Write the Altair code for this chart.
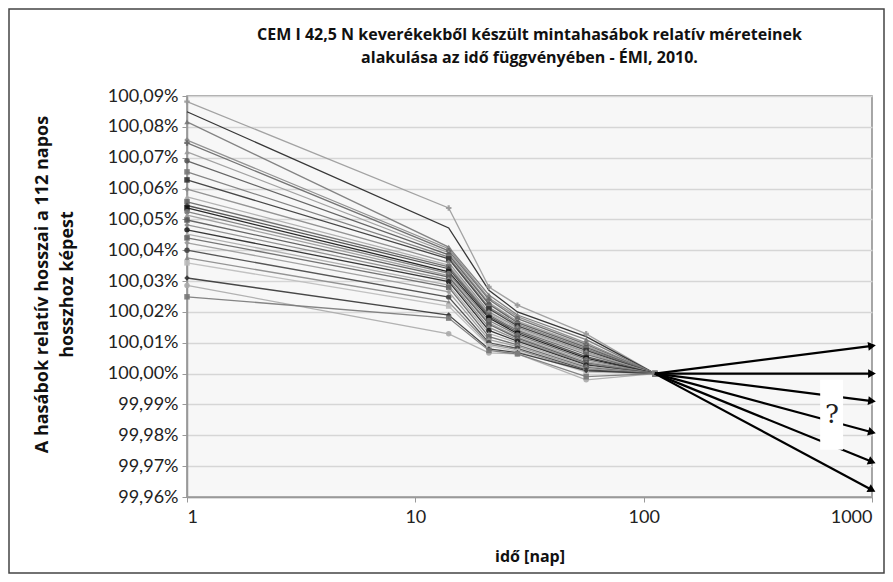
import math
import altair as alt
import pandas as pd

# ---------------- data ----------------
days = [1, 14, 21, 28, 56, 112]

d1 = [100.0882, 100.0849, 100.0816, 100.0757, 100.0748, 100.0719, 100.0690,
      100.0654, 100.0628, 100.0598, 100.0573, 100.0557, 100.0545, 100.0537,
      100.0525, 100.0514, 100.0498, 100.0482, 100.0466, 100.0452, 100.0440,
      100.0424, 100.0400, 100.0375, 100.0359, 100.0310, 100.0286, 100.0249]
d14 = [100.0537, 100.0472, 100.0410, 100.0405, 100.0398, 100.0392, 100.0385,
       100.0378, 100.0372, 100.0360, 100.0352, 100.0346, 100.0340, 100.0330,
       100.0325, 100.0318, 100.0313, 100.0305, 100.0298, 100.0287, 100.0280,
       100.0265, 100.0248, 100.0232, 100.0219, 100.0190, 100.0129, 100.0180]
d21 = [100.0281, 100.0270, 100.0255, 100.0245, 100.0240, 100.0230, 100.0225,
       100.0215, 100.0210, 100.0200, 100.0195, 100.0190, 100.0185, 100.0180,
       100.0172, 100.0165, 100.0160, 100.0150, 100.0140, 100.0130, 100.0120,
       100.0110, 100.0100, 100.0095, 100.0090, 100.0080, 100.0067, 100.0075]
d28 = [100.0222, 100.0200, 100.0190, 100.0185, 100.0178, 100.0170, 100.0165,
       100.0160, 100.0155, 100.0150, 100.0145, 100.0140, 100.0135, 100.0130,
       100.0125, 100.0119, 100.0115, 100.0110, 100.0105, 100.0100, 100.0093,
       100.0088, 100.0082, 100.0078, 100.0072, 100.0068, 100.0064, 100.0064]
d56 = [100.0129, 100.0120, 100.0110, 100.0100, 100.0095, 100.0090, 100.0085,
       100.0080, 100.0075, 100.0070, 100.0067, 100.0062, 100.0055, 100.0050,
       100.0045, 100.0040, 100.0035, 100.0032, 100.0028, 100.0024, 100.0020,
       100.0016, 100.0012, 100.0008, 100.0005, 100.0010, 99.9980, 99.9990]
d112 = [100.0] * len(d1)

series_colors = ["#999999", "#222222", "#777777", "#888888", "#666666", "#999999",
                 "#555555", "#777777", "#333333", "#888888", "#aaaaaa", "#666666",
                 "#444444", "#111111", "#777777", "#999999", "#555555", "#888888",
                 "#222222", "#aaaaaa", "#666666", "#999999", "#444444", "#888888",
                 "#bbbbbb", "#333333", "#aaaaaa", "#777777"]
series_shapes = ["cross", "stroke", "triangle-up", "diamond", "cross", "triangle-up",
                 "circle", "square", "square", "diamond", "triangle-up", "square",
                 "diamond", "square", "circle", "triangle-up", "square", "diamond",
                 "circle", "triangle-up", "square", "diamond", "circle", "triangle-up",
                 "square", "diamond", "circle", "square"]

arrow_start_day = 112
arrow_start_val = 100.0
arrow_end_day = 1000
arrow_end_vals = [100.0090, 100.0000, 99.9911, 99.9810, 99.9714, 99.9623]

qbox_x = [593, 747]
qbox_y = [99.9753, 99.9980]
qmark = {"day": 668, "value": 99.9865, "text": "?"}

title_lines = ["CEM I 42,5 N keverékekből készült mintahasábok relatív méreteinek",
               "alakulása az idő függvényében - ÉMI, 2010."]
y_title = ["A hasábok relatív hosszai a 112 napos", "hosszhoz képest"]
x_title = "idő [nap]"
x_ticks = [1, 10, 100, 1000]
y_ticks = [round(99.96 + 0.01 * k, 2) for k in range(14)]

# ---------------- layout ----------------
W, H = 685, 401
PAD = {"left": 179, "top": 88, "right": 13, "bottom": 77}
y_dom = [99.96, 100.09]
x_dom = [1, 1000]

names = [f"s{i+1:02d}" for i in range(len(d1))]
rows = []
for i, nm in enumerate(names):
    for d, v in zip(days, [d1[i], d14[i], d21[i], d28[i], d56[i], d112[i]]):
        rows.append({"series": nm, "day": d, "value": v})
df = pd.DataFrame(rows)

# arrow-head angles in screen space
px_per_decade = W / math.log10(x_dom[1] / x_dom[0])
px_per_unit = H / (y_dom[1] - y_dom[0])
arr_rows = []
for v in arrow_end_vals:
    dx = px_per_decade * math.log10(arrow_end_day / arrow_start_day)
    dy = (arrow_start_val - v) * px_per_unit
    ang = math.degrees(math.atan2(dy, dx)) % 360
    arr_rows.append({"x0": arrow_start_day, "y0": arrow_start_val,
                     "x1": arrow_end_day, "y1": v, "ang": ang})
adf = pd.DataFrame(arr_rows)

xscale = alt.Scale(type="log", domain=x_dom, nice=False)
yscale = alt.Scale(domain=y_dom, nice=False, zero=False)

xaxis = alt.Axis(values=x_ticks, format="d", grid=False, title=x_title,
                 labelFont="Lato", labelFontSize=18, labelColor="#222",
                 labelPadding=6, titleFont="Open Sans", titleFontSize=16,
                 titleFontWeight="bold", titleColor="#111", titlePadding=22,
                 tickSize=5, tickColor="#999", domainColor="#999", domainWidth=1.5,
                 labelOverlap=False)
yaxis = alt.Axis(values=y_ticks, grid=True, gridColor="#d6d6d6", gridWidth=1.5,
                 labelOverlap=False,
                 labelExpr="replace(format(datum.value, '.2f'), '.', ',') + '%'",
                 labelFont="Lato", labelFontSize=18, labelColor="#222",
                 labelPadding=4, tickSize=5, tickColor="#999", domainColor="#999",
                 domainWidth=1.5, title=y_title, titleFont="Open Sans",
                 titleFontSize=18, titleFontWeight="bold", titleColor="#111",
                 titleX=-136, titleY=188, titleAngle=270, titleAlign="center",
                 titleBaseline="bottom", titleLineHeight=25)

def X(field):
    return alt.X(field, scale=xscale, axis=xaxis)

def Y(field):
    return alt.Y(field, scale=yscale, axis=yaxis)

frame = alt.Chart(pd.DataFrame({"a": [0]})).mark_rect(
    filled=False, stroke="#444", strokeWidth=1.5
).encode(x=alt.value(-PAD["left"] + 1), x2=alt.value(W + PAD["right"] - 1),
         y=alt.value(-PAD["top"] + 1), y2=alt.value(H + PAD["bottom"] - 1))

title1 = alt.Chart(pd.DataFrame({"text": [title_lines[0]]})).mark_text(
    font="Open Sans", fontSize=16, fontWeight="bold", color="#111",
    align="center", baseline="middle"
).encode(text="text:N", x=alt.value(W / 2), y=alt.value(-61))
title2 = alt.Chart(pd.DataFrame({"text": [title_lines[1]]})).mark_text(
    font="Open Sans", fontSize=16, fontWeight="bold", color="#111",
    align="center", baseline="middle"
).encode(text="text:N", x=alt.value(W / 2), y=alt.value(-38))

cscale = alt.Scale(domain=names, range=series_colors)
base = alt.Chart(df)
lines = base.mark_line(strokeWidth=1.3, opacity=0.9).encode(
    x=X("day:Q"),
    y=Y("value:Q"),
    color=alt.Color("series:N", scale=cscale, legend=None),
    detail="series:N",
    order="day:Q",
)
points = base.mark_point(filled=True, size=30, opacity=0.9).encode(
    x=X("day:Q"),
    y=Y("value:Q"),
    color=alt.Color("series:N", scale=cscale, legend=None),
    shape=alt.Shape("series:N", scale=alt.Scale(domain=names, range=series_shapes), legend=None),
)

arrows = alt.Chart(adf).mark_rule(color="#000", strokeWidth=2.2).encode(
    x=X("x0:Q"), x2="x1:Q",
    y=Y("y0:Q"), y2="y1:Q",
)
heads = alt.Chart(adf).mark_point(shape="triangle-right", filled=True, size=80,
                                  color="#000", opacity=1).encode(
    x=X("x1:Q"),
    y=Y("y1:Q"),
    angle=alt.Angle("ang:Q", scale=None),
)

qbox = alt.Chart(pd.DataFrame({"x1": [qbox_x[0]], "x2": [qbox_x[1]],
                               "y1": [qbox_y[0]], "y2": [qbox_y[1]]})).mark_rect(
    color="white").encode(
    x=X("x1:Q"), x2="x2:Q",
    y=Y("y1:Q"), y2="y2:Q",
)
qtext = alt.Chart(pd.DataFrame([qmark])).mark_text(
    font="DejaVu Serif", fontSize=26, color="#222").encode(
    x=X("day:Q"), y=Y("value:Q"), text="text:N")

chart = alt.layer(lines, points, arrows, heads, qbox, qtext, frame, title1, title2).properties(
    width=W, height=H,
    autosize=alt.AutoSizeParams(type="none"),
    padding=PAD,
).configure_view(fill="#f7f7f7", stroke="#8a8a8a", strokeWidth=1.5
).configure_axis(labelOverlap=False)

chart.save("out.html", embed_options={"renderer": "svg", "actions": False})
